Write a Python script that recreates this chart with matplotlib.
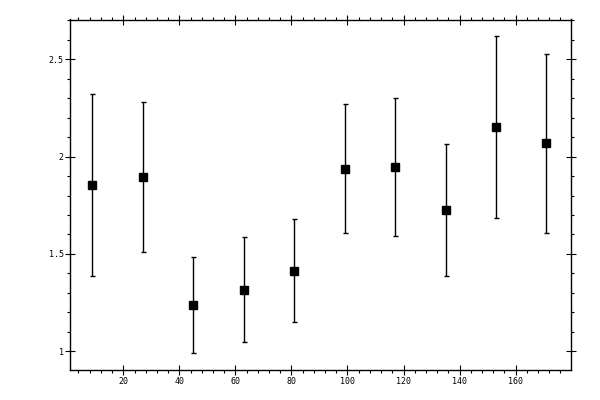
import matplotlib
matplotlib.use("Agg")
import matplotlib.pyplot as plt
from matplotlib.ticker import MultipleLocator

# -- Data ----------------------------------------------------------------------
x_vals = [9, 27, 45, 63, 81, 99, 117, 135, 153, 171]
y_vals = [1.852, 1.893, 1.237, 1.314, 1.411, 1.938, 1.948, 1.724, 2.153, 2.071]
y_low = [1.386, 1.509, 0.990, 1.046, 1.150, 1.610, 1.590, 1.386, 1.686, 1.610]
y_high = [2.320, 2.281, 1.483, 1.585, 1.678, 2.271, 2.302, 2.065, 2.619, 2.527]

err_lo = [y - lo for y, lo in zip(y_vals, y_low)]
err_hi = [hi - y for y, hi in zip(y_vals, y_high)]

fig = plt.figure(figsize=(6, 4), dpi=100)
ax = fig.add_axes([69.5 / 600, 30 / 400, 501 / 600, 350.5 / 400])

# markeredgewidth would override capthick for the caps, so shrink the marker
# instead and let the 1pt edge make up the rest
ax.errorbar(x_vals, y_vals, yerr=[err_lo, err_hi], fmt="s", color="black",
            markersize=5.5, elinewidth=1, capsize=1.8, capthick=1)

ax.set_xlim(0.8, 179.6)
ax.set_ylim(0.904, 2.704)

ax.xaxis.set_major_locator(MultipleLocator(20))
ax.xaxis.set_minor_locator(MultipleLocator(4))
ax.yaxis.set_major_locator(MultipleLocator(0.5))
ax.yaxis.set_minor_locator(MultipleLocator(0.1))
ax.yaxis.set_major_formatter(plt.FuncFormatter(lambda v, p: f"{v:g}"))
ax.xaxis.set_major_formatter(plt.FuncFormatter(lambda v, p: f"{v:g}" if v > 0 else ""))

ax.tick_params(which="major", direction="inout", length=6.5, width=0.8,
               top=True, right=True, labelsize=6)
ax.tick_params(which="minor", direction="out", length=2.2, width=0.8,
               top=True, right=True)
ax.tick_params(axis="y", which="major", pad=1)
ax.tick_params(axis="x", which="major", pad=2)
for lbl in ax.get_xticklabels() + ax.get_yticklabels():
    lbl.set_family("DejaVu Sans Mono")
for s in ax.spines.values():
    s.set_linewidth(1)

fig.savefig("out.png", dpi=100)
